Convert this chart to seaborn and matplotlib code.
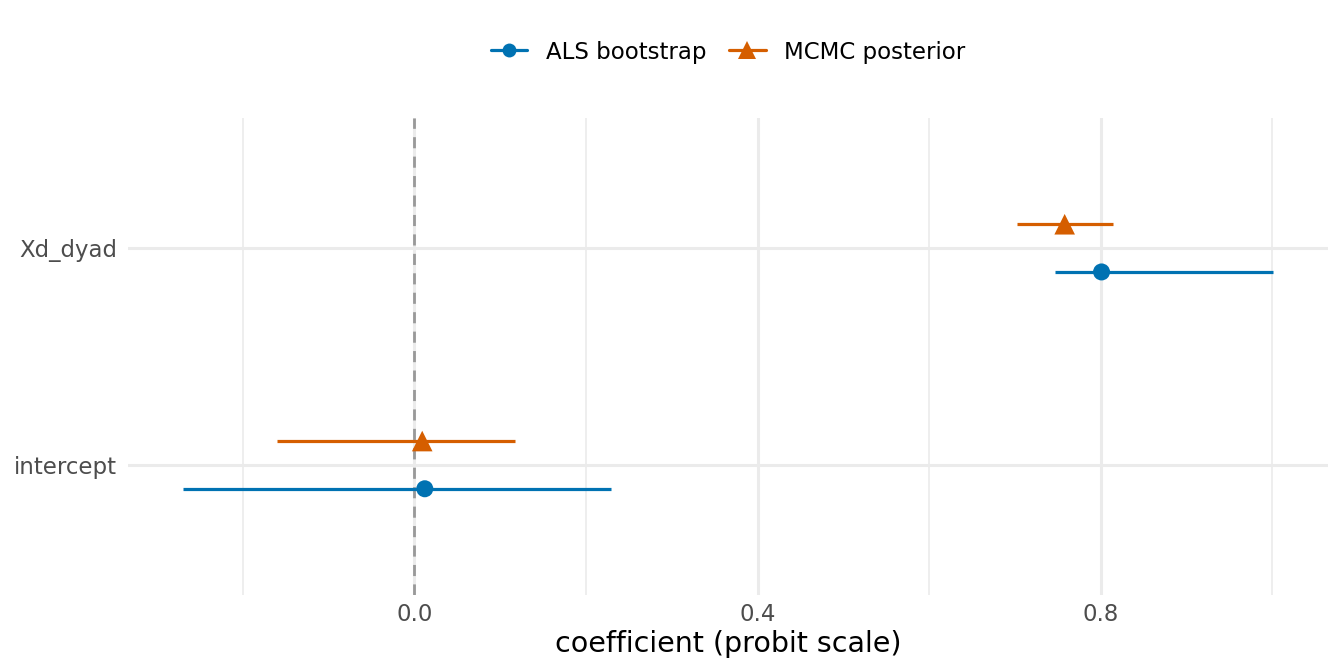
import numpy as np
import pandas as pd
import matplotlib
matplotlib.use('Agg')
import matplotlib.pyplot as plt
from matplotlib.lines import Line2D
import seaborn as sns

# 数据
terms = ['intercept', 'Xd_dyad']
methods = ['ALS bootstrap', 'MCMC posterior']
als_est = [0.012, 0.801]
als_lo = [-0.270, 0.747]
als_hi = [0.229, 1.001]
mcmc_est = [0.009, 0.758]
mcmc_lo = [-0.160, 0.703]
mcmc_hi = [0.117, 0.814]

colors = {'ALS bootstrap': '#0072B2', 'MCMC posterior': '#D55E00'}
markers = {'ALS bootstrap': 'o', 'MCMC posterior': '^'}
dodge = {'ALS bootstrap': -0.11, 'MCMC posterior': 0.11}

df = pd.DataFrame({
    'term': terms * 2,
    'method': [methods[0]] * 2 + [methods[1]] * 2,
    'est': als_est + mcmc_est,
    'lo': als_lo + mcmc_lo,
    'hi': als_hi + mcmc_hi,
})
df['y'] = df['term'].map({t: i + 1 for i, t in enumerate(terms)}) + df['method'].map(dodge)

sns.set_theme(style='white')
plt.rcParams['font.family'] = ['DejaVu Sans']

fig = plt.figure(figsize=(13.44, 6.72), dpi=100)
ax = fig.add_axes([128 / 1344, 1 - 595 / 672, 1200 / 1344, 477 / 672])

# 网格
for xv in [-0.2, 0.2, 0.6, 1.0]:
    ax.axvline(xv, color='#EBEBEB', lw=1.2, zorder=0)
for xv in [0.0, 0.4, 0.8]:
    ax.axvline(xv, color='#EBEBEB', lw=2.2, zorder=0)
for yv in [1, 2]:
    ax.axhline(yv, color='#EBEBEB', lw=2.2, zorder=0)

ax.axvline(0, color='#999999', lw=2, ls=(0, (4, 3)), zorder=1)

for m in methods:
    sub = df[df['method'] == m]
    ax.hlines(sub['y'], sub['lo'], sub['hi'], color=colors[m], lw=2.3, zorder=2)

sns.scatterplot(data=df[df['method'] == methods[0]], x='est', y='y',
                color=colors[methods[0]], marker='o', s=150, edgecolor='none',
                legend=False, ax=ax, zorder=3)
sns.scatterplot(data=df[df['method'] == methods[1]], x='est', y='y',
                color=colors[methods[1]], marker='^', s=220, edgecolor='none',
                legend=False, ax=ax, zorder=3)

ax.set_xlim(-0.334, 1.065)
ax.set_ylim(0.4, 2.6)
ax.set_xticks([0.0, 0.4, 0.8])
ax.set_xticklabels(['0.0', '0.4', '0.8'])
ax.set_yticks([1, 2])
ax.set_yticklabels(terms)
ax.tick_params(axis='both', length=0, labelsize=16.5, labelcolor='#4D4D4D')
ax.tick_params(axis='y', pad=8)
ax.tick_params(axis='x', pad=6)
ax.set_xlabel('coefficient (probit scale)', fontsize=20.5, color='black', labelpad=3)
ax.set_ylabel('')
for s in ax.spines.values():
    s.set_visible(False)

handles = [Line2D([0], [0], color=colors[m], marker=markers[m],
                  markersize=10 if m == methods[0] else 13,
                  lw=2.3, markeredgewidth=0) for m in methods]
leg = fig.legend(handles, methods, loc='center', bbox_to_anchor=(728 / 1344, 1 - 52 / 672),
                 ncol=2, frameon=False, fontsize=16.5, handlelength=1.6, columnspacing=1.0,
                 handletextpad=0.8)
for t in leg.get_texts():
    t.set_color('black')

fig.savefig('out.png', dpi=100)
